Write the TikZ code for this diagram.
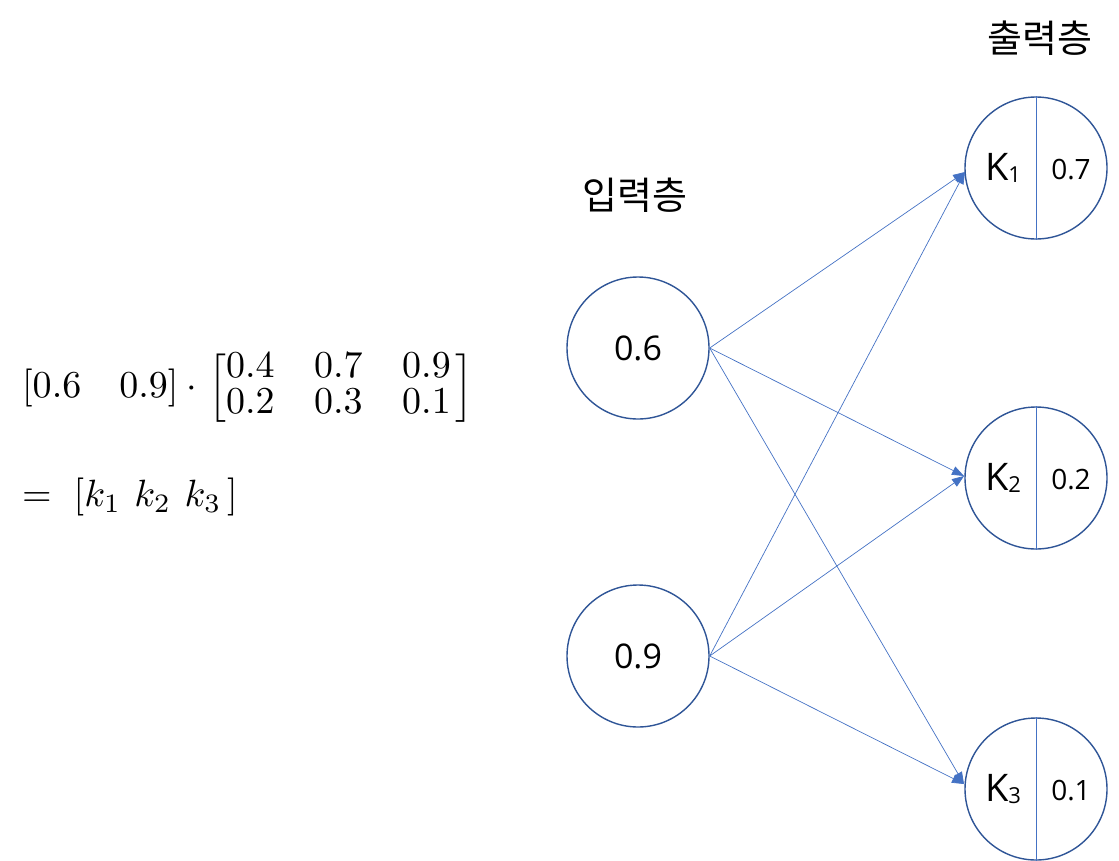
\documentclass[tikz,border=0pt]{standalone}
\usepackage{amsmath}
\usepackage{graphicx}
\usepackage{fontspec}
\setmainfont{Open Sans}
\newfontfamily\kor{Noto Sans CJK KR}
\usetikzlibrary{arrows.meta}
\definecolor{ring}{HTML}{2F5597}
\definecolor{wire}{HTML}{4472C4}
\tikzset{
  neuron/.style={circle,draw=ring,line width=1.4pt,minimum size=142pt,inner sep=0pt,fill=white},
  wirearrow/.style={draw=wire,line width=0.7pt,-{Triangle[length=12pt,width=9pt]}},
  divider/.style={draw=wire,line width=1pt},
  lbl/.style={inner sep=0pt,font=\fontsize{34}{40}\selectfont},
  ktxt/.style={inner sep=0pt,font=\fontsize{38}{44}\selectfont},
  vtxt/.style={inner sep=0pt,font=\fontsize{28}{34}\selectfont},
  hdr/.style={inner sep=0pt,font=\kor\fontsize{38}{44}\selectfont},
  eq/.style={inner sep=0pt,anchor=west,font=\fontsize{10}{9.6}\selectfont}
}
\begin{document}
\begin{tikzpicture}[x=1pt,y=-1pt]
\useasboundingbox (0,0) rectangle (1119,860);
% headers
\node[hdr] (hin) at (635,195) {입력층};
\node[hdr] (hout) at (1040,38) {출력층};
% input neurons
\node[neuron] (i1) at (638,348) {};
\node[lbl] at (i1) {0.6};
\node[neuron] (i2) at (638,656) {};
\node[lbl] at (i2) {0.9};
% output neurons
\foreach \n/\y/\s/\v in {o1/168/1/0.7, o2/478/2/0.2, o3/789/3/0.1}{
  \node[neuron] (\n) at (1036,\y) {};
  \draw[divider] (\n.north) -- (\n.south);
  \node[ktxt] (\n k) at (1003,\y) {K\raisebox{-0.05em}{\fontsize{22}{26}\selectfont\s}};
  \node[vtxt] (\n v) at (1071,\y+2) {\v};
}
% connections
\coordinate (a1) at (965,172);
\coordinate (a2) at (964,476);
\coordinate (a3) at (964,784);
\foreach \t in {a1,a2,a3}{
  \draw[wirearrow] (i1.east) -- (\t);
  \draw[wirearrow] (i2.east) -- (\t);
}
% equation
\node[eq] (e1) at (22,388) {\scalebox{3.8}{\setlength{\arraycolsep}{5.2pt}$[0.6\hspace{10pt}0.9]\cdot\hspace{0.6pt}\left[\begin{array}{@{}ccc@{\hspace{1.2pt}}}0.4 & 0.7 & 0.9\\ 0.2 & 0.3 & 0.1\end{array}\right]$}};
\node[eq] (e2) at (22,497) {\scalebox{3.8}{$=\hspace{3pt}[k_1\hspace{3.5pt}k_2\hspace{3.5pt}k_3\hspace{1.5pt}]$}};
\end{tikzpicture}
\end{document}
